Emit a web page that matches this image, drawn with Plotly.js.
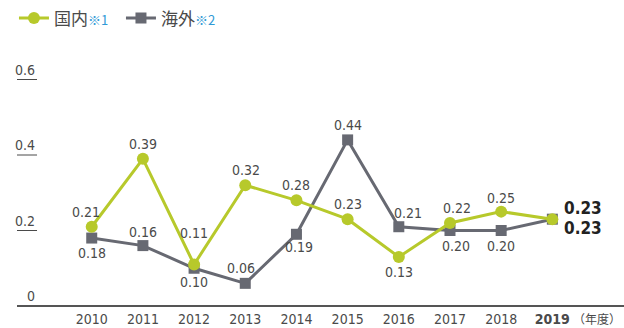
<!DOCTYPE html>
<html>
<head>
<meta charset="utf-8">
<script src="https://cdn.plot.ly/plotly-3.0.1.min.js"></script>
<style>
  html, body { margin: 0; padding: 0; background: #fff; }
  #chart { width: 624px; height: 328px; }
</style>
</head>
<body>
<div id="chart"></div>
<script>
// Fiscal years and the two series
const years = [2010, 2011, 2012, 2013, 2014, 2015, 2016, 2017, 2018, 2019];
const domestic = [0.21, 0.39, 0.11, 0.32, 0.28, 0.23, 0.13, 0.22, 0.25, 0.23];
const overseas = [0.18, 0.16, 0.10, 0.06, 0.19, 0.44, 0.21, 0.20, 0.20, 0.23];
const yTicks = [0, 0.2, 0.4, 0.6];
const yTickText = ['0', '0.2', '0.4', '0.6'];
const xTickText = ['2010', '2011', '2012', '2013', '2014', '2015', '2016', '2017', '2018', '<b>2019</b>'];
const unitLabel = '（年度）';
const domesticName = '国内';
const overseasName = '海外';
const domesticNote = '※1';
const overseasNote = '※2';

// Label placement (pixel offsets from each marker)
const domesticLabelShift = [[-6, 15], [0, 15], [0, 31], [1, 15], [0, 15], [0, 15], [0, -15], [7, 15], [0, 14], [10, 11]];
const overseasLabelShift = [[0, -15], [0, 14], [0, -14], [-4, 15], [3, -13], [0, 15], [9, 14], [6, -15], [0, -15], [10, -9]];

const GREEN = '#b7c92b';
const GRAY = '#676972';
const TEXT = '#4a4a4a';
const NOTE = '#2f9ad6';
const NUM_FONT = '"DejaVu Sans Condensed", "Noto Sans", sans-serif';
const CJK_FONT = '"Noto Sans CJK JP", "Noto Sans", sans-serif';

function noteSpan(note) {
  return '<span style="color:' + NOTE + ';font-size:13px;font-family:Noto Sans CJK JP">' + note + '</span>';
}

const traces = [
  {
    x: years, y: overseas, type: 'scatter', mode: 'lines+markers',
    name: overseasName + noteSpan(overseasNote),
    line: { color: GRAY, width: 3 },
    marker: { symbol: 'square', size: 11, color: GRAY },
    legendrank: 2
  },
  {
    x: years, y: domestic, type: 'scatter', mode: 'lines+markers',
    name: domesticName + noteSpan(domesticNote),
    line: { color: GREEN, width: 3 },
    marker: { symbol: 'circle', size: 12, color: GREEN },
    legendrank: 1
  }
];

const annotations = [];
function addLabels(values, shifts) {
  values.forEach((v, i) => {
    const last = i === values.length - 1;
    annotations.push({
      x: years[i], y: v, xref: 'x', yref: 'y',
      text: last ? '<b>' + v.toFixed(2) + '</b>' : v.toFixed(2),
      showarrow: false,
      xanchor: last ? 'left' : 'center', yanchor: 'middle',
      xshift: shifts[i][0], yshift: shifts[i][1],
      font: { family: NUM_FONT, size: last ? 17 : 14, color: last ? '#222' : TEXT }
    });
  });
}
addLabels(domestic, domesticLabelShift);
addLabels(overseas, overseasLabelShift);

// y-axis labels sitting on short underline segments
const shapes = [];
yTicks.forEach((t, i) => {
  annotations.push({
    x: 0.033, y: t, xref: 'paper', yref: 'y', text: yTickText[i],
    showarrow: false, xanchor: 'right', yanchor: 'bottom', yshift: 0,
    font: { family: NUM_FONT, size: 14, color: TEXT }
  });
  if (t > 0) {
    shapes.push({ type: 'line', xref: 'paper', yref: 'y', x0: 0, x1: 0.033, y0: t, y1: t,
                  line: { color: TEXT, width: 1 } });
  }
});

annotations.push({
  x: 0.955, y: 0, xref: 'paper', yref: 'paper', text: unitLabel, showarrow: false,
  xanchor: 'center', yanchor: 'middle', yshift: -12,
  font: { family: CJK_FONT, size: 12, color: TEXT }
});

const layout = {
  width: 624, height: 328,
  margin: { l: 17, r: 0, t: 0, b: 22 },
  paper_bgcolor: '#fff', plot_bgcolor: '#fff',
  showlegend: true,
  legend: {
    orientation: 'h', x: -0.005, xanchor: 'left', y: 0.94, yanchor: 'middle',
    font: { family: CJK_FONT, size: 17, color: TEXT },
    itemwidth: 30, entrywidth: 62, traceorder: 'normal', bgcolor: 'rgba(0,0,0,0)'
  },
  xaxis: {
    range: [2008.54, 2020.4], tickvals: years, ticktext: xTickText,
    showgrid: false, zeroline: false, showline: false, ticks: '', ticklabelstandoff: 3,
    tickfont: { family: NUM_FONT, size: 14, color: TEXT }, automargin: false
  },
  yaxis: {
    range: [0, 0.8106], showgrid: false, zeroline: true, zerolinecolor: '#555', zerolinewidth: 1.5,
    showticklabels: false, ticks: '', showline: false, automargin: false
  },
  annotations: annotations,
  shapes: shapes
};

Plotly.newPlot('chart', traces, layout, { displayModeBar: false, staticPlot: true });
</script>
</body>
</html>
